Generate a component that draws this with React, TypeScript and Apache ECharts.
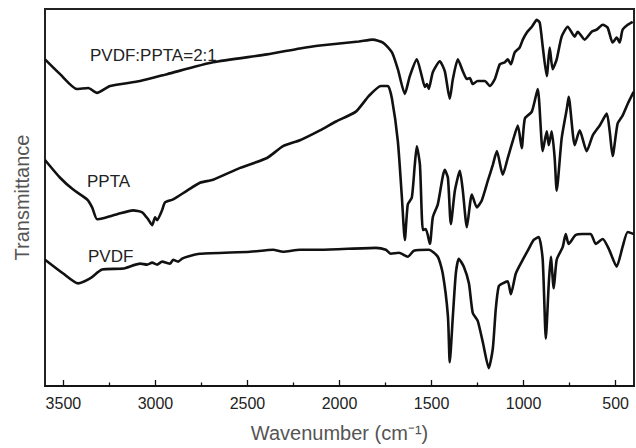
import React, { useEffect, useRef } from "react";
import * as echarts from "echarts";

// Wavenumber (cm-1) / transmittance (arbitrary, offset units)
const blendSpectrum: [number, number][] = [
  [3600, 331], [3518, 316], [3427, 301], [3365, 302], [3318, 297], [3246, 304],
  [3083, 309], [2937, 316], [2687, 328], [2394, 336], [2215, 342], [2106, 345],
  [1895, 349], [1819, 351], [1764, 348], [1715, 338], [1683, 321], [1645, 296],
  [1618, 314], [1580, 331], [1553, 314], [1536, 303], [1525, 306], [1515, 301],
  [1493, 318], [1455, 329], [1428, 319], [1401, 291], [1384, 311], [1357, 331],
  [1330, 319], [1308, 311], [1292, 312], [1276, 306], [1249, 309], [1211, 309],
  [1183, 304], [1156, 311], [1129, 326], [1102, 328], [1086, 331], [1069, 326],
  [1048, 338], [1021, 343], [1004, 351], [983, 358], [955, 364], [928, 371],
  [912, 368], [896, 344], [874, 314], [858, 343], [842, 321], [820, 331],
  [793, 354], [760, 364], [722, 354], [706, 359], [668, 351], [630, 359],
  [603, 361], [570, 366], [543, 363], [516, 348], [494, 353], [478, 348],
  [462, 361], [434, 366], [407, 369],
];

const pptaSpectrum: [number, number][] = [
  [3600, 229], [3518, 211], [3447, 199], [3371, 189], [3344, 181], [3317, 169],
  [3284, 170], [3208, 174], [3121, 178], [3072, 176], [3040, 169], [3018, 163],
  [3002, 171], [2991, 168], [2964, 178], [2948, 186], [2904, 189], [2828, 198],
  [2758, 206], [2687, 209], [2540, 221], [2394, 231], [2307, 243], [2215, 249],
  [2106, 259], [2019, 268], [1911, 278], [1840, 294], [1775, 304], [1737, 304],
  [1715, 291], [1683, 248], [1661, 191], [1645, 148], [1629, 184], [1607, 191],
  [1591, 224], [1580, 243], [1563, 224], [1547, 158], [1531, 159], [1509, 144],
  [1493, 171], [1466, 184], [1428, 219], [1411, 211], [1395, 164], [1373, 198],
  [1346, 218], [1330, 198], [1308, 161], [1281, 194], [1254, 181], [1227, 188],
  [1194, 208], [1167, 224], [1145, 238], [1113, 214], [1086, 231], [1059, 248],
  [1031, 264], [1010, 241], [993, 271], [955, 278], [923, 301], [896, 238],
  [874, 258], [863, 244], [847, 258], [831, 231], [820, 198], [793, 251],
  [765, 281], [755, 293], [722, 244], [695, 259], [657, 238], [624, 254],
  [586, 264], [548, 276], [532, 258], [516, 233], [489, 266], [462, 274],
  [434, 286], [402, 298],
];

const pvdfSpectrum: [number, number][] = [
  [3600, 128], [3501, 114], [3420, 104], [3355, 109], [3290, 118], [3176, 119],
  [3083, 124], [3045, 123], [3018, 125], [2991, 123], [2964, 126], [2920, 124],
  [2904, 128], [2877, 126], [2855, 129], [2828, 131], [2758, 134], [2486, 136],
  [2361, 138], [2307, 136], [2215, 138], [2106, 138], [1802, 140], [1748, 138],
  [1721, 134], [1677, 135], [1629, 131], [1596, 137], [1515, 138], [1466, 131],
  [1439, 114], [1411, 71], [1401, 24], [1384, 71], [1368, 114], [1352, 129],
  [1325, 121], [1297, 104], [1276, 74], [1249, 66], [1221, 44], [1189, 18],
  [1167, 38], [1151, 78], [1135, 101], [1113, 104], [1086, 106], [1069, 93],
  [1042, 114], [1004, 128], [972, 139], [945, 148], [917, 151], [896, 128],
  [879, 48], [863, 104], [852, 131], [836, 99], [820, 128], [787, 141],
  [771, 154], [755, 144], [717, 153], [679, 154], [635, 154], [608, 144],
  [570, 149], [537, 139], [494, 121], [462, 141], [434, 156], [402, 154],
];

const seriesNames = ["PVDF:PPTA=2:1", "PPTA", "PVDF"];
const majorTicks = [500, 1000, 1500, 2000, 2500, 3000, 3500];
const minorTicks = [750, 1250, 1750, 2250, 2750, 3250];
const xRange = [400, 3600];
const yRange = [0, 382];

const FONT = "'Liberation Sans', Arial, Helvetica, sans-serif";

export default function App() {
  const ref = useRef<HTMLDivElement>(null);
  useEffect(() => {
    if (!ref.current) return;
    const chart = echarts.init(ref.current, undefined, { renderer: "svg" });
    const lineStyle = { color: "#111", width: 2.6 };
    chart.setOption({
      animation: false,
      grid: {
        left: 45,
        top: 9,
        right: 2,
        bottom: 57,
        show: true,
        borderColor: "#222",
        borderWidth: 2,
        backgroundColor: "rgba(0,0,0,0)",
      },
      xAxis: [
        {
          type: "value",
          min: xRange[0],
          max: xRange[1],
          inverse: true,
          position: "bottom",
          name: "Wavenumber (cm\u207B\u00B9)",
          nameLocation: "middle",
          nameGap: 37,
          nameTextStyle: { fontFamily: FONT, fontSize: 20, color: "#555" },
          axisLine: { show: true, onZero: false, lineStyle: { color: "#111", width: 1.6 } },
          axisTick: {
            show: true,
            inside: true,
            length: 6,
            customValues: majorTicks,
            lineStyle: { color: "#111", width: 1.3 },
          },
          axisLabel: {
            customValues: majorTicks,
            formatter: (v: number) => String(v),
            fontFamily: FONT,
            fontSize: 16,
            color: "#222",
            margin: 9,
          },
          splitLine: { show: false },
        },
        {
          type: "value",
          min: xRange[0],
          max: xRange[1],
          inverse: true,
          position: "bottom",
          axisLine: { show: false, onZero: false },
          axisTick: {
            show: true,
            inside: true,
            length: 3.5,
            customValues: minorTicks,
            lineStyle: { color: "#111", width: 1.3 },
          },
          axisLabel: { show: false },
          splitLine: { show: false },
        },
      ],
      yAxis: {
        type: "value",
        min: yRange[0],
        max: yRange[1],
        name: "Transmittance",
        nameLocation: "middle",
        nameGap: 13,
        nameRotate: 90,
        nameTextStyle: { fontFamily: FONT, fontSize: 20, color: "#555" },
        axisLine: { show: false },
        axisTick: { show: false },
        axisLabel: { show: false },
        splitLine: { show: false },
      },
      series: [blendSpectrum, pptaSpectrum, pvdfSpectrum].map((d, i) => ({
        type: "line",
        name: seriesNames[i],
        data: d,
        xAxisIndex: 0,
        showSymbol: false,
        symbol: "none",
        smooth: 0.2,
        lineStyle,
      })),
      graphic: [
        { type: "text", left: 90, top: 47, style: { text: seriesNames[0], font: `17px ${FONT}`, fill: "#222" } },
        { type: "text", left: 87, top: 173, style: { text: seriesNames[1], font: `17px ${FONT}`, fill: "#222" } },
        { type: "text", left: 88, top: 248, style: { text: seriesNames[2], font: `17px ${FONT}`, fill: "#222" } },
      ],
    });
    return () => chart.dispose();
  }, []);
  return (
    <div
      ref={ref}
      style={{ position: "fixed", left: 0, top: 0, width: 636, height: 448, background: "#fff" }}
    />
  );
}
